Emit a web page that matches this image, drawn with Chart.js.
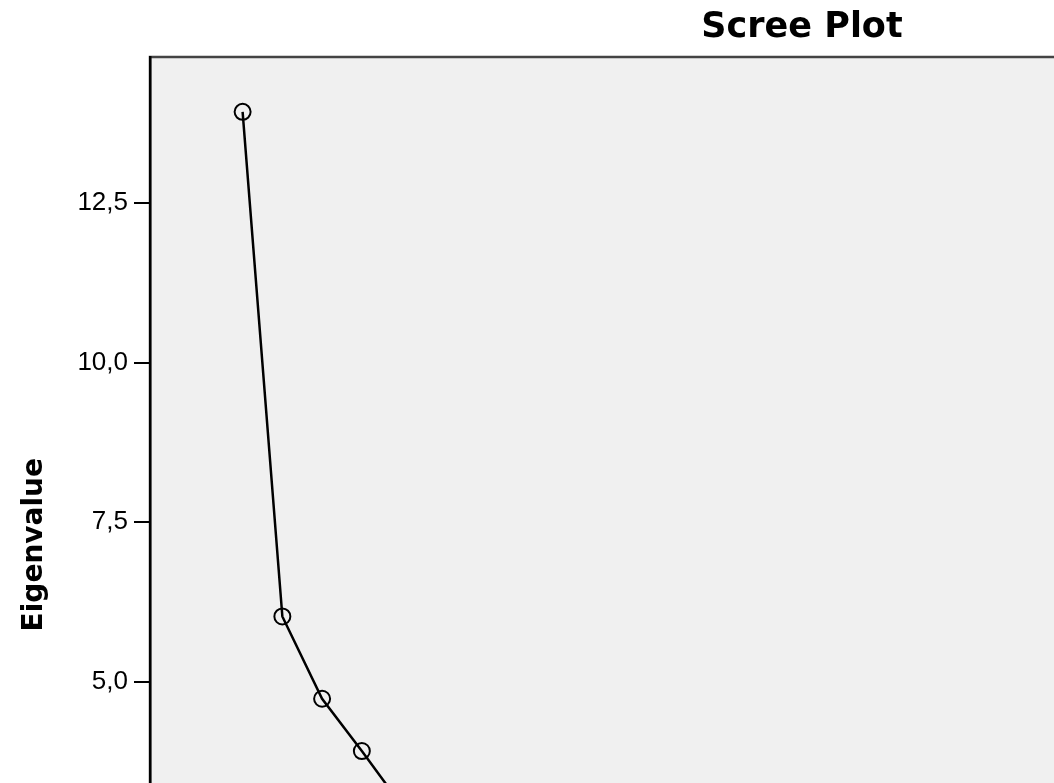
<!DOCTYPE html>
<html>
<head>
<meta charset="utf-8">
<script src="https://cdn.jsdelivr.net/npm/chart.js@4/dist/chart.umd.min.js"></script>
<style>
  html, body { margin: 0; padding: 0; background: #ffffff; overflow: hidden; width: 1054px; height: 783px; }
  #wrap { position: absolute; left: 0; top: 0; width: 1604px; height: 1054px; }
</style>
</head>
<body>
<div id="wrap"><canvas id="c" width="1604" height="1054"></canvas></div>
<script>
// Data (component number vs eigenvalue)
const components = [1, 2, 3, 4, 5];
const eigenvalues = [13.93, 6.02, 4.73, 3.91, 3.06];
const yTicks = [0, 2.5, 5, 7.5, 10, 12.5];
const chartTitle = 'Scree Plot';
const yTitle = 'Eigenvalue';
const xTitle = 'Component Number';

const plotBg = {
  id: 'plotBg',
  beforeDraw(chart) {
    const {ctx, chartArea: a} = chart;
    ctx.save();
    ctx.fillStyle = '#f0f0f0';
    ctx.fillRect(a.left, a.top, a.right - a.left, a.bottom - a.top);
    ctx.strokeStyle = '#444444';
    ctx.lineWidth = 2.5;
    ctx.strokeRect(a.left, a.top, a.right - a.left, a.bottom - a.top);
    ctx.restore();
  }
};

new Chart(document.getElementById('c'), {
  type: 'line',
  data: {
    datasets: [{
      data: components.map((c, i) => ({x: c, y: eigenvalues[i]})),
      borderColor: '#000000',
      borderWidth: 2.5,
      backgroundColor: 'rgba(0,0,0,0)',
      pointStyle: 'circle',
      pointRadius: 8,
      pointBorderWidth: 2,
      pointBorderColor: '#000000',
      pointBackgroundColor: 'rgba(0,0,0,0)',
      tension: 0,
      fill: false
    }]
  },
  options: {
    responsive: false,
    animation: false,
    devicePixelRatio: 1,
    layout: { padding: { left: 0, right: 0, top: 0, bottom: 1.8 } },
    plugins: {
      legend: { display: false },
      tooltip: { enabled: false },
      title: {
        display: true,
        text: chartTitle,
        color: '#000000',
        font: { family: 'DejaVu Sans', size: 35, weight: 'bold' },
        padding: { top: 7, bottom: 8 }
      }
    },
    scales: {
      x: {
        type: 'linear',
        display: false,
        min: -1.33,
        max: 35,
        title: { display: false, text: xTitle }
      },
      y: {
        type: 'linear',
        min: -0.5,
        max: 14.79,
        afterFit(scale) { scale.width = 150; },
        afterBuildTicks(scale) { scale.ticks = yTicks.map(v => ({value: v})); },
        border: { display: true, color: '#000000', width: 2.5 },
        grid: {
          display: true,
          drawOnChartArea: false,
          drawTicks: true,
          tickLength: 16,
          lineWidth: 2,
          tickWidth: 2,
          tickColor: '#000000'
        },
        ticks: {
          color: '#000000',
          padding: 6,
          font: { family: 'Liberation Sans', size: 26 },
          callback: (v) => Number(v).toFixed(1).replace('.', ',')
        },
        title: {
          display: true,
          text: yTitle,
          color: '#000000',
          font: { family: 'DejaVu Sans', size: 28, weight: 'bold' },
          padding: { top: 18, bottom: 0 }
        }
      }
    }
  },
  plugins: [plotBg]
});
</script>
</body>
</html>
